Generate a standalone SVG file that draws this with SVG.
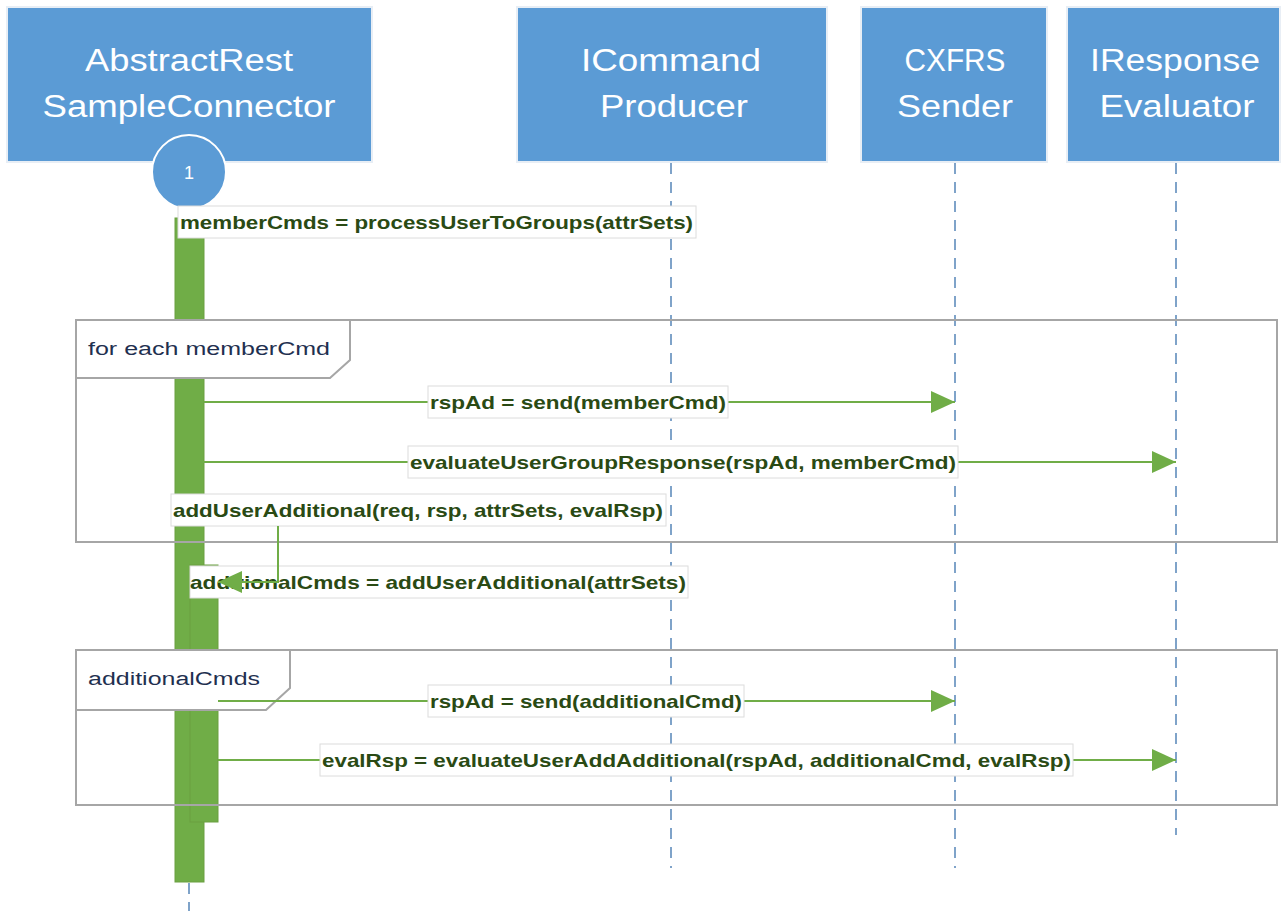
<svg xmlns="http://www.w3.org/2000/svg" width="1282" height="911" viewBox="0 0 1282 911">
<style>
.hdr{fill:#5b9bd5;stroke:#e8eef5;stroke-width:2}
.ht{font-family:"Liberation Sans",Arial,sans-serif;font-size:31px;fill:#ffffff;text-anchor:middle}
.life{stroke:#7fa3c9;stroke-width:2;stroke-dasharray:11 8;fill:none}
.bar{fill:#70ad47;stroke:#6a9f40;stroke-width:1}
.frame{fill:none;stroke:#a6a6a6;stroke-width:2}
.flab{fill:#ffffff;stroke:#a6a6a6;stroke-width:2}
.ft{font-family:"Liberation Sans",Arial,sans-serif;font-size:18px;fill:#1f3050}
.msg{stroke:#70ad47;stroke-width:2;fill:none}
.lb{fill:#ffffff;stroke:#dcdcdc;stroke-width:1}
.lt{font-family:"Liberation Sans",Arial,sans-serif;font-size:19px;font-weight:bold;fill:#2a4a14}
</style>
<defs>
<marker id="ah" markerWidth="24" markerHeight="22" refX="24" refY="11" orient="auto" markerUnits="userSpaceOnUse">
<path d="M0,0 L24,11 L0,22 Z" fill="#70ad47"/>
</marker>
</defs>

<g id="lifelines">
<line class="life" x1="671" y1="163" x2="671" y2="868"/>
<line class="life" x1="955" y1="163" x2="955" y2="868"/>
<line class="life" x1="1176" y1="163" x2="1176" y2="835"/>
<line class="life" x1="189" y1="883" x2="189" y2="911"/>
</g>

<g id="node-abstract">
<rect class="hdr" x="7" y="7" width="365" height="155"/>
<text class="ht" x="189" y="71" textLength="208" lengthAdjust="spacingAndGlyphs">AbstractRest</text>
<text class="ht" x="189" y="117" textLength="293" lengthAdjust="spacingAndGlyphs">SampleConnector</text>
</g>
<g id="node-icommand">
<rect class="hdr" x="517" y="7" width="310" height="155"/>
<text class="ht" x="671" y="71" textLength="180" lengthAdjust="spacingAndGlyphs">ICommand</text>
<text class="ht" x="674" y="117" textLength="148" lengthAdjust="spacingAndGlyphs">Producer</text>
</g>
<g id="node-cxfrs">
<rect class="hdr" x="861" y="7" width="186" height="155"/>
<text class="ht" x="955" y="71" textLength="101" lengthAdjust="spacingAndGlyphs">CXFRS</text>
<text class="ht" x="955" y="117" textLength="116" lengthAdjust="spacingAndGlyphs">Sender</text>
</g>
<g id="node-iresponse">
<rect class="hdr" x="1067" y="7" width="213" height="155"/>
<text class="ht" x="1175" y="71" textLength="170" lengthAdjust="spacingAndGlyphs">IResponse</text>
<text class="ht" x="1177" y="117" textLength="155" lengthAdjust="spacingAndGlyphs">Evaluator</text>
</g>

<g id="activations">
<rect class="bar" x="175" y="218" width="29" height="664"/>
<rect class="bar" x="190" y="565" width="28" height="257"/>
</g>

<g id="node-step1">
<circle cx="189" cy="172" r="37" fill="#5b9bd5" stroke="#ffffff" stroke-width="2"/>
<text x="189" y="179" font-family="Liberation Sans, Arial, sans-serif" font-size="18" fill="#ffffff" text-anchor="middle">1</text>
</g>

<g id="frame-loop">
<rect class="frame" x="76" y="320" width="1201" height="222"/>
<path class="flab" d="M76,320 L350,320 L350,360 L330,378 L76,378 Z"/>
<text class="ft" x="88" y="355" textLength="242" lengthAdjust="spacingAndGlyphs">for each memberCmd</text>
</g>
<g id="frame-additional">
<rect class="frame" x="76" y="650" width="1201" height="155"/>
<path class="flab" d="M76,650 L290,650 L290,688 L266,710 L76,710 Z"/>
<text class="ft" x="88" y="685" textLength="172" lengthAdjust="spacingAndGlyphs">additionalCmds</text>
</g>

<g id="connectors">
<line class="msg" x1="204" y1="402" x2="955" y2="402" marker-end="url(#ah)"/>
<line class="msg" x1="188" y1="462" x2="1176" y2="462" marker-end="url(#ah)"/>
<line class="msg" x1="218" y1="701" x2="955" y2="701" marker-end="url(#ah)"/>
<line class="msg" x1="218" y1="760" x2="1176" y2="760" marker-end="url(#ah)"/>
</g>

<g id="labels">
<rect class="lb" x="178" y="206" width="518" height="32"/>
<text class="lt" x="180" y="229" textLength="513" lengthAdjust="spacingAndGlyphs">memberCmds = processUserToGroups(attrSets)</text>
<rect class="lb" x="428" y="386" width="300" height="32"/>
<text class="lt" x="430" y="409" textLength="296" lengthAdjust="spacingAndGlyphs">rspAd = send(memberCmd)</text>
<rect class="lb" x="408" y="446" width="550" height="32"/>
<text class="lt" x="410" y="469" textLength="546" lengthAdjust="spacingAndGlyphs">evaluateUserGroupResponse(rspAd, memberCmd)</text>
<rect class="lb" x="171" y="494" width="495" height="32"/>
<text class="lt" x="173" y="517" textLength="490" lengthAdjust="spacingAndGlyphs">addUserAdditional(req, rsp, attrSets, evalRsp)</text>
<rect class="lb" x="190" y="566" width="498" height="32"/>
<text class="lt" x="190" y="589" textLength="496" lengthAdjust="spacingAndGlyphs">additionalCmds = addUserAdditional(attrSets)</text>
<rect class="lb" x="428" y="685" width="316" height="32"/>
<text class="lt" x="430" y="708" textLength="312" lengthAdjust="spacingAndGlyphs">rspAd = send(additionalCmd)</text>
<rect class="lb" x="320" y="744" width="753" height="32"/>
<text class="lt" x="322" y="767" textLength="749" lengthAdjust="spacingAndGlyphs">evalRsp = evaluateUserAddAdditional(rspAd, additionalCmd, evalRsp)</text>
</g>

<g id="connector-self">
<path class="msg" d="M278,526 L278,582 L218,582" marker-end="url(#ah)"/>
</g>
</svg>
